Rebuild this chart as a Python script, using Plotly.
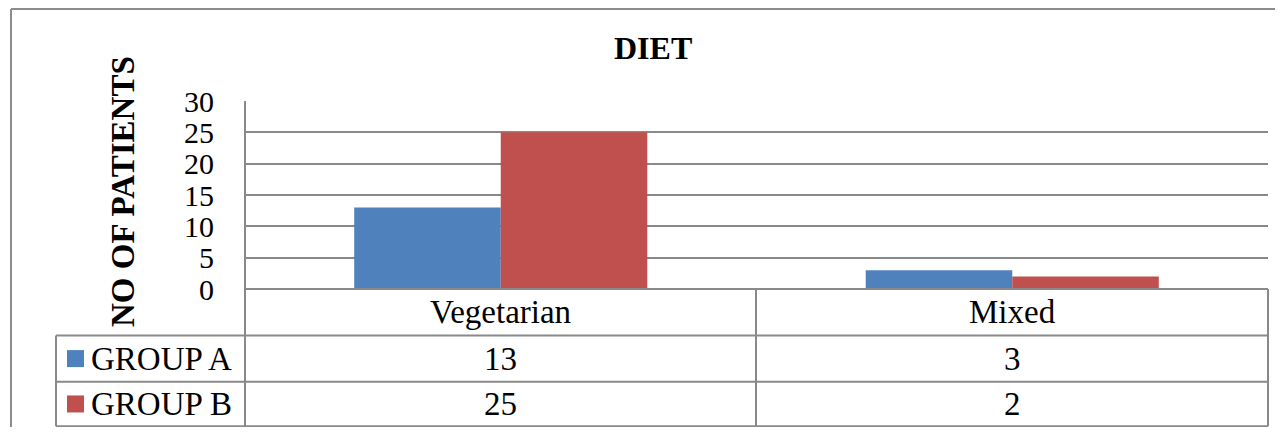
import plotly.graph_objects as go

# ---- data ----
title = "DIET"
y_title = "NO OF PATIENTS"
categories = ["Vegetarian", "Mixed"]
series_names = ["GROUP A", "GROUP B"]
group_a = [13, 3]
group_b = [25, 2]
series_values = [group_a, group_b]
colors = ["#4F81BD", "#C0504D"]
y_ticks = [0, 5, 10, 15, 20, 25, 30]

W, H = 1267, 419   # fits the window together with the 8px page margin (no scrollbars)
OFF = 8  # page body margin
FONT = "Liberation Serif, Times New Roman, serif"
GRID = "#898989"

def px(x):
    return (x - OFF) / W

def py(y):
    return 1 - (y - OFF) / H

# layout positions in window pixels
X0, X1 = 245, 1268
Y_TOP, Y_ZERO = 101, 289
ROW_A, ROW_B, ROW_END = 335.5, 381.7, 426.2
TBL_LEFT = 56
DIV_X = 756

fig = go.Figure()
for name, vals, col in zip(series_names, series_values, colors):
    fig.add_trace(go.Bar(x=categories, y=vals, name=name, marker=dict(color=col, line=dict(width=0)),
                         showlegend=False))

shapes = []
line = dict(color=GRID, width=2)
border = dict(color="#8c8c8c", width=2)
# outer chart border: only top and left edges are inside the window
shapes.append(dict(type="line", xref="paper", yref="paper", x0=px(11), x1=1.0, y0=py(9), y1=py(9), line=border))
shapes.append(dict(type="line", xref="paper", yref="paper", x0=px(11), x1=px(11), y0=0.0, y1=py(9), line=border))
# left axis line down through table
shapes.append(dict(type="line", xref="paper", yref="paper", x0=px(X0), x1=px(X0), y0=py(Y_TOP), y1=py(ROW_END), line=line))
# table horizontal lines
shapes.append(dict(type="line", xref="paper", yref="paper", x0=px(X0), x1=px(X1), y0=py(Y_ZERO), y1=py(Y_ZERO), line=line))
for yy in (ROW_A, ROW_B, ROW_END):
    shapes.append(dict(type="line", xref="paper", yref="paper", x0=px(TBL_LEFT), x1=px(X1), y0=py(yy), y1=py(yy), line=line))
# table vertical lines
shapes.append(dict(type="line", xref="paper", yref="paper", x0=px(TBL_LEFT), x1=px(TBL_LEFT), y0=py(ROW_A), y1=py(ROW_END), line=line))
shapes.append(dict(type="line", xref="paper", yref="paper", x0=px(DIV_X), x1=px(DIV_X), y0=py(Y_ZERO), y1=py(ROW_END), line=line))
shapes.append(dict(type="line", xref="paper", yref="paper", x0=px(X1), x1=px(X1), y0=py(Y_ZERO), y1=py(ROW_END), line=line))

annotations = []
# title
annotations.append(dict(text=f"<b>{title}</b>", xref="paper", yref="paper", x=px(653), y=py(48),
                        showarrow=False, font=dict(family=FONT, size=32, color="black"),
                        xanchor="center", yanchor="middle"))
# y title
annotations.append(dict(text=f"<b>{y_title}</b>", xref="paper", yref="paper", x=px(123), y=py(192),
                        showarrow=False, textangle=-90, font=dict(family=FONT, size=33, color="black"),
                        xanchor="center", yanchor="middle"))
# category row
for c in categories:
    annotations.append(dict(text=c, xref="x", yref="paper", x=c, y=py((Y_ZERO + ROW_A) / 2),
                            showarrow=False, font=dict(family=FONT, size=33, color="black"),
                            xanchor="center", yanchor="middle"))
# data rows
row_bounds = [(ROW_A, ROW_B), (ROW_B, ROW_END)]
for (r0, r1), name, vals, col in zip(row_bounds, series_names, series_values, colors):
    ym = (r0 + r1) / 2
    shapes.append(dict(type="rect", xref="paper", yref="paper", x0=px(67), x1=px(84), y0=py(ym + 8.5), y1=py(ym - 8.5),
                       fillcolor=col, line=dict(width=0)))
    annotations.append(dict(text=name, xref="paper", yref="paper", x=px(89), y=py(ym),
                            showarrow=False, font=dict(family=FONT, size=33, color="black"),
                            xanchor="left", yanchor="middle"))
    for c, v in zip(categories, vals):
        annotations.append(dict(text=str(v), xref="x", yref="paper", x=c, y=py(ym),
                                showarrow=False, font=dict(family=FONT, size=33, color="black"),
                                xanchor="center", yanchor="middle"))

fig.update_layout(
    width=W, height=H,
    margin=dict(l=0, r=0, t=0, b=0, pad=0, autoexpand=False),
    paper_bgcolor="white", plot_bgcolor="white",
    barmode="group", bargap=0.427, bargroupgap=0,
    shapes=shapes, annotations=annotations,
    xaxis=dict(domain=[px(X0), px(X1)], range=[-0.5, 1.5], showticklabels=False, showgrid=False,
               zeroline=False, showline=False, fixedrange=True, automargin=False),
    yaxis=dict(domain=[py(Y_ZERO), py(Y_TOP)], range=[0, 30], tickvals=y_ticks,
               ticktext=[str(t) for t in y_ticks], showgrid=True, gridcolor=GRID, gridwidth=2,
               zeroline=False, showline=False, ticks="", ticklabelstandoff=30, automargin=False,
               tickfont=dict(family=FONT, size=30, color="black"), fixedrange=True),
    showlegend=False,
)

fig.write_html("out.html")
